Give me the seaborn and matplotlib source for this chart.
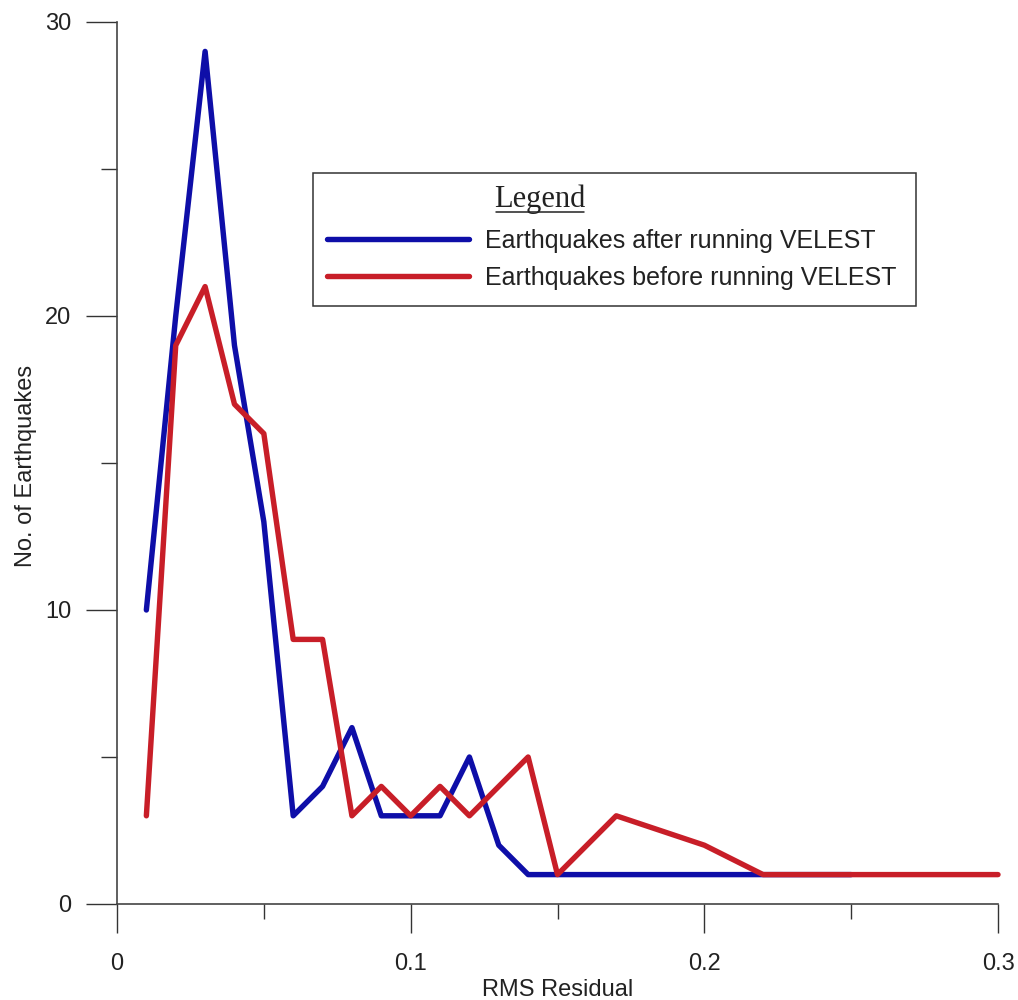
import matplotlib
matplotlib.use("Agg")
import matplotlib.pyplot as plt
from matplotlib.lines import Line2D
from matplotlib.patches import Rectangle
import seaborn as sns
import pandas as pd

# ---- data ----
label_after = "Earthquakes after running VELEST"
label_before = "Earthquakes before running VELEST"

rms_after = [0.01, 0.02, 0.03, 0.04, 0.05, 0.06, 0.07, 0.08, 0.09, 0.10,
             0.11, 0.12, 0.13, 0.14, 0.22, 0.25]
count_after = [10, 20, 29, 19, 13, 3, 4, 6, 3, 3, 3, 5, 2, 1, 1, 1]

rms_before = [0.01, 0.02, 0.03, 0.04, 0.05, 0.06, 0.07, 0.08, 0.09, 0.10,
              0.11, 0.12, 0.14, 0.15, 0.17, 0.20, 0.22, 0.25, 0.30]
count_before = [3, 19, 21, 17, 16, 9, 9, 3, 4, 3, 4, 3, 5, 1, 3, 2, 1, 1, 1]

x_ticks = [0, 0.1, 0.2, 0.3]
x_ticklabels = ["0", "0.1", "0.2", "0.3"]
x_minor = [0.05, 0.15, 0.25]
y_ticks = [0, 10, 20, 30]
y_ticklabels = ["0", "10", "20", "30"]
y_minor = [5, 15, 25]

color_after = "#0E0EA8"
color_before = "#C81E28"

df = pd.concat([
    pd.DataFrame({"rms": rms_after, "count": count_after, "series": label_after}),
    pd.DataFrame({"rms": rms_before, "count": count_before, "series": label_before}),
], ignore_index=True)

sns.set_style("ticks")
plt.rcParams["font.family"] = ["Liberation Sans", "DejaVu Sans"]

fig = plt.figure(figsize=(10.18, 10.0), dpi=100)
ax = fig.add_axes([117 / 1018, 1 - 904 / 1000, (998 - 117) / 1018, (904 - 22) / 1000])

sns.lineplot(data=df, x="rms", y="count", hue="series",
             hue_order=[label_after, label_before],
             palette={label_after: color_after, label_before: color_before},
             estimator=None, sort=False, linewidth=3.9, legend=False, ax=ax)
for ln in ax.get_lines():
    ln.set_solid_capstyle("round")
    ln.set_solid_joinstyle("round")
    ln.set_clip_on(False)

ax.set_xlim(0, 0.3)
ax.set_ylim(0, 30)
ax.set_xticks(x_ticks)
ax.set_xticklabels(x_ticklabels)
ax.set_xticks(x_minor, minor=True)
ax.set_yticks(y_ticks)
ax.set_yticklabels(y_ticklabels)
ax.set_yticks(y_minor, minor=True)

for s in ["top", "right"]:
    ax.spines[s].set_visible(False)
for s in ["left", "bottom"]:
    ax.spines[s].set_color("#444444")
    ax.spines[s].set_linewidth(1.2)

ax.tick_params(which="both", bottom=True, left=True, top=False, right=False)
ax.tick_params(axis="x", which="major", direction="out", length=21, width=1.0,
               color="#333333", pad=14, labelsize=17, labelcolor="#222222")
ax.tick_params(axis="x", which="minor", direction="out", length=11, width=1.0,
               color="#333333")
ax.tick_params(axis="y", which="major", direction="out", length=22, width=1.0,
               color="#333333", pad=11, labelsize=17, labelcolor="#222222")
ax.tick_params(axis="y", which="minor", direction="out", length=11.5, width=1.0,
               color="#333333")

ax.set_xlabel("RMS Residual", fontsize=17, color="#222222")
ax.set_ylabel("No. of Earthquakes", fontsize=17, color="#222222")
ax.xaxis.set_label_coords(0.5, -0.0845)
ax.yaxis.set_label_coords(-0.0908, 0.497)

# legend frame
frame = Rectangle((0.2221, 0.678), 0.6848, 0.1511, transform=ax.transAxes,
                  facecolor="white", edgecolor="#333333", linewidth=1.1,
                  zorder=4, clip_on=False)
ax.add_patch(frame)

handles = [Line2D([], [], color=color_after, lw=3.9, solid_capstyle="round"),
           Line2D([], [], color=color_before, lw=3.9, solid_capstyle="round")]
leg = ax.legend(handles, [label_after, label_before], loc="upper left",
                bbox_to_anchor=(0.2384, 0.7653), frameon=False, borderpad=0,
                borderaxespad=0, fontsize=18, handlelength=5.68,
                handletextpad=0.64, labelspacing=0.52)
leg.set_zorder(5)
for t in leg.get_texts():
    t.set_color("#222222")

title = ax.text(0.4801, 0.7906, "Legend", transform=ax.transAxes, ha="center",
                va="baseline", fontsize=22, family=["Liberation Serif", "DejaVu Serif"],
                color="#222222", zorder=6)
ax.plot([0.4301, 0.5301], [0.785, 0.785], transform=ax.transAxes,
        color="#222222", lw=1.1, zorder=6, clip_on=False)

fig.savefig("out.png", dpi=100)
